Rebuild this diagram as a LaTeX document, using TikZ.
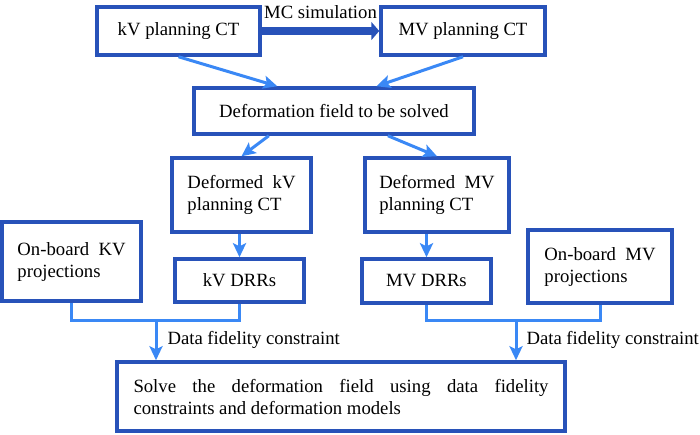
\documentclass[tikz,border=0pt]{standalone}
\usepackage{fontspec}
\setmainfont{Liberation Serif}
\definecolor{boxblue}{RGB}{40, 82, 185}
\definecolor{arrowblue}{RGB}{58, 136, 245}
\usetikzlibrary{arrows.meta, positioning, calc}

\begin{document}
\begin{tikzpicture}[x=1pt, y=-1pt,
  stagebox/.style={draw=boxblue, line width=3.5pt, fill=white, inner sep=0pt,
    font=\fontsize{18.7}{22}\selectfont, align=left},
  link/.style={draw=arrowblue, line width=3pt},
  linkarrow/.style={link, -{Stealth[length=14pt, width=13pt, inset=3pt]}},
  lbl/.style={inner sep=0pt, text=black, font=\fontsize{18.7}{22}\selectfont}]
  \useasboundingbox (0,0) rectangle (700,434);

  % boxes
  \node[stagebox, minimum width=163pt, minimum height=48pt] (kvct) at (178.5,31) {kV planning CT};
  \node[stagebox, minimum width=164pt, minimum height=48pt] (mvct) at (463,31) {MV planning CT};
  \node[stagebox, minimum width=280pt, minimum height=46pt] (field) at (334,111) {Deformation field to be solved};
  \node[stagebox, minimum width=139pt, minimum height=74pt] (defkv) at (241.5,195) {Deformed~~kV\\planning CT};
  \node[stagebox, minimum width=144pt, minimum height=74pt] (defmv) at (437,195) {Deformed~~MV\\planning CT};
  \node[stagebox, minimum width=139pt, minimum height=79pt] (obkv) at (71.5,261.5) {On-board~~KV\\projections};
  \node[stagebox, minimum width=129pt, minimum height=43pt] (kvdrr) at (239.5,280.5) {kV DRRs};
  \node[stagebox, minimum width=129pt, minimum height=44pt] (mvdrr) at (426.5,281) {MV DRRs};
  \node[stagebox, minimum width=144pt, minimum height=73pt] (obmv) at (600,266.5) {On-board~~MV\\projections};
  \node[stagebox, minimum width=448pt, minimum height=69pt, text width=415pt, align=justify] (solve) at (341,396.5)
    {Solve the deformation field using data fidelity\linebreak constraints and deformation models};

  % MC step
  \draw[draw=boxblue, line width=7.5pt, -{Triangle[length=8pt, width=18pt]}] (kvct) -- node[lbl, above=9pt] {MC simulation} (mvct);

  \draw[linkarrow] (kvct.south) -- ($(field.north west)!0.3!(field.north east)$);
  \draw[linkarrow] (mvct.south) -- ($(field.north west)!0.65!(field.north east)$);
  \draw[linkarrow] ($(field.south west)!0.27!(field.south east)$) -- (defkv.north);
  \draw[linkarrow] ($(field.south west)!0.69!(field.south east)$) -- (defmv.north);
  \draw[linkarrow] (kvdrr.north |- defkv.south) -- (kvdrr.north);
  \draw[linkarrow] (mvdrr.north |- defmv.south) -- (mvdrr.north);

  % data fidelity
  \coordinate (kvjoin) at (156,320);
  \coordinate (mvjoin) at (516,320);
  \draw[link] (obkv.south) |- (kvjoin) -| (kvdrr.south);
  \draw[link] (mvdrr.south) |- (mvjoin) -| (obmv.south);
  \draw[linkarrow] (kvjoin) -- (kvjoin |- solve.north) node[lbl, midway, right=10pt] {Data fidelity constraint};
  \draw[linkarrow] (mvjoin) -- (mvjoin |- solve.north) node[lbl, midway, right=9pt] {Data fidelity constraint};
\end{tikzpicture}
\end{document}
